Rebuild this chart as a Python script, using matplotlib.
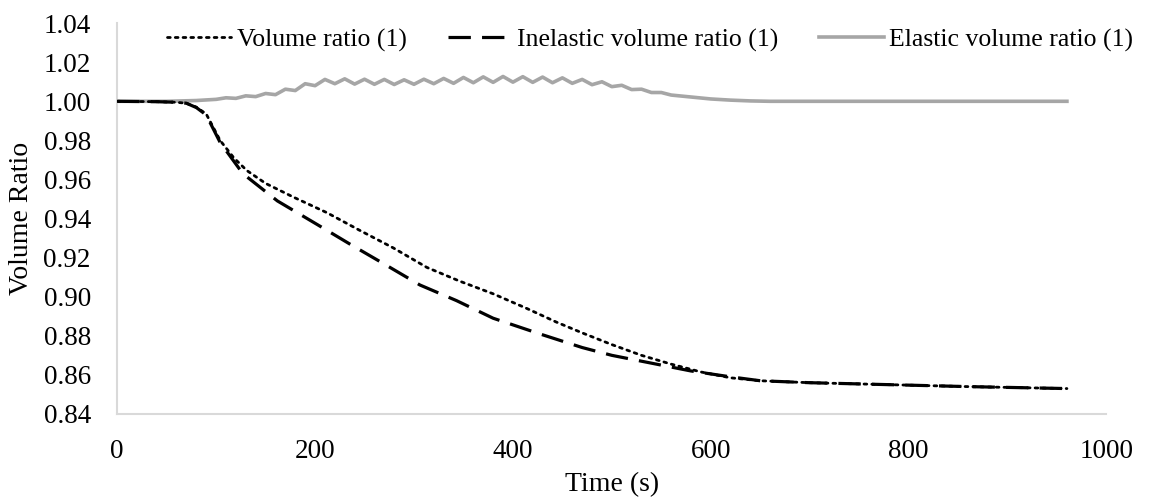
import matplotlib.pyplot as plt

plt.rcParams['font.family'] = ['Liberation Serif', 'DejaVu Serif']

# total volume ratio (dotted)
t_vol = [0, 40, 60, 70, 80, 90, 104, 118, 131, 150, 178, 212, 245, 279, 313, 346,
         380, 414, 444, 470, 500, 530, 560, 590, 620, 650, 700, 780, 860, 960]
vol = [1.0000, 0.9998, 0.9995, 0.9990, 0.9970, 0.9935, 0.9800, 0.9710, 0.9646, 0.9580,
       0.9510, 0.9430, 0.9340, 0.9250, 0.9150, 0.9080, 0.9015, 0.8940, 0.8870, 0.8815,
       0.8755, 0.8700, 0.8655, 0.8615, 0.8585, 0.8570, 0.8560, 0.8550, 0.8540, 0.8530]

# inelastic volume ratio (dashed)
t_inel = [0, 40, 60, 70, 80, 90, 104, 127, 162, 202, 235, 269, 306, 343, 380, 427,
          470, 500, 540, 580, 620, 650, 700, 780, 860, 960]
inel = [1.0000, 0.9998, 0.9995, 0.9990, 0.9968, 0.9930, 0.9790, 0.9630, 0.9490, 0.9370,
        0.9270, 0.9170, 0.9060, 0.8980, 0.8890, 0.8810, 0.8740, 0.8700, 0.8660, 0.8620,
        0.8590, 0.8570, 0.8560, 0.8550, 0.8540, 0.8530]

# elastic volume ratio (grey, oscillating)
t_el = [0, 50, 80, 100, 110, 120, 130, 140, 150, 160, 170, 180, 190, 200, 210, 220,
        230, 240, 250, 260, 270, 280, 290, 300, 310, 320, 330, 340, 350, 360, 370,
        380, 390, 400, 410, 420, 430, 440, 450, 460, 470, 480, 490, 500, 510, 520,
        530, 540, 550, 560, 580, 600, 620, 640, 660, 700, 800, 960]
el = [1.0000, 1.0000, 1.0004, 1.0010, 1.0018, 1.0015, 1.0028, 1.0024, 1.0040, 1.0034,
      1.0062, 1.0055, 1.0090, 1.0080, 1.0112, 1.0090, 1.0115, 1.0088, 1.0113, 1.0087,
      1.0112, 1.0086, 1.0110, 1.0087, 1.0113, 1.0090, 1.0117, 1.0092, 1.0122, 1.0095,
      1.0125, 1.0097, 1.0127, 1.0098, 1.0126, 1.0097, 1.0124, 1.0095, 1.0120, 1.0092,
      1.0112, 1.0085, 1.0100, 1.0075, 1.0082, 1.0060, 1.0062, 1.0045, 1.0045, 1.0032,
      1.0022, 1.0012, 1.0006, 1.0002, 1.0000, 1.0000, 1.0000, 1.0000]

fig = plt.figure(figsize=(11.49, 5.03), dpi=100)
ax = fig.add_axes([0.102, 0.177, 0.861, 0.777])

ax.plot(t_el, el, color='#a6a6a6', lw=2.6, label='Elastic volume ratio (1)', zorder=2)
ax.plot(t_inel, inel, color='black', lw=2.3, dashes=(7, 3.5),
        label='Inelastic volume ratio (1)', zorder=3)
ax.plot(t_vol, vol, color='black', lw=2.0, linestyle=(0, (1, 1.8)),
        dash_capstyle='round', label='Volume ratio (1)', zorder=4)

ax.set_xlim(0, 1000)
ax.set_ylim(0.84, 1.04)
ax.set_xticks([0, 200, 400, 600, 800, 1000])
ax.set_yticks([0.84, 0.86, 0.88, 0.90, 0.92, 0.94, 0.96, 0.98, 1.00, 1.02, 1.04])
ax.set_yticklabels(['%.2f' % v for v in ax.get_yticks()])
ax.tick_params(axis='both', length=0, labelsize=19.5)
ax.tick_params(axis='y', pad=19)
ax.tick_params(axis='x', pad=18)

for s in ['top', 'right']:
    ax.spines[s].set_visible(False)
for s in ['left', 'bottom']:
    ax.spines[s].set_color('#d9d9d9')
    ax.spines[s].set_linewidth(1.5)

ax.set_xlabel('Time (s)', fontsize=20, labelpad=6)
ax.set_ylabel('Volume Ratio', fontsize=20, labelpad=7)

h, l = ax.get_legend_handles_labels()
fig.legend(h[::-1], l[::-1], ncol=3, loc='center', bbox_to_anchor=(650 / 1149, 1 - 40 / 503),
           frameon=False, fontsize=18.5, handlelength=2.5, handletextpad=0.2,
           columnspacing=1.6)

fig.savefig('out.png', dpi=100)
